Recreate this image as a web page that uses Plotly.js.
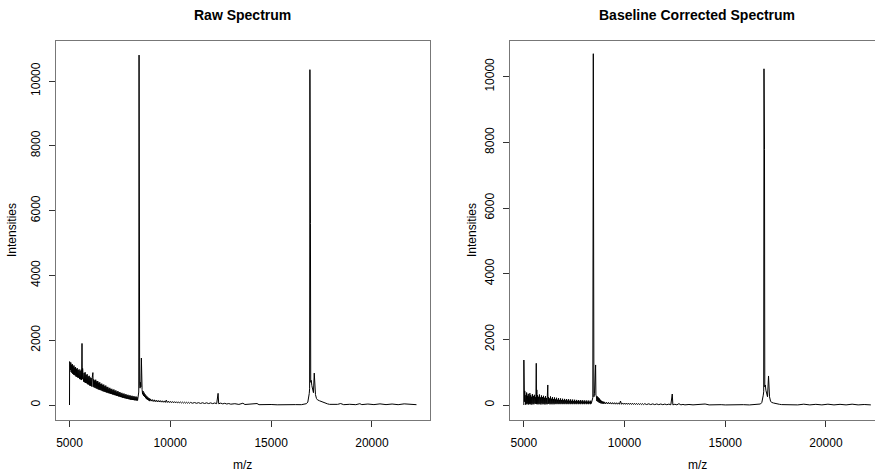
<!DOCTYPE html>
<html>
<head>
<meta charset="utf-8">
<script src="https://cdn.plot.ly/plotly-3.0.1.min.js"></script>
<style>html,body{margin:0;padding:0;background:#fff;}#chart{width:875px;height:474px;}</style>
</head>
<body>
<div id="chart"></div>
<script>
// ---- Data ----
var panelTitles = ["Raw Spectrum", "Baseline Corrected Spectrum"];
var xLabel = "m/z";
var yLabel = "Intensities";
var xTickVals = [5000, 10000, 15000, 20000];
var yTickVals = [0, 2000, 4000, 6000, 8000, 10000];

// Raw spectrum: [m/z, intensity]
var rawPoints = [
[5000,0],[5005,1340],[5020,1050],[5035,1290],[5050,1080],[5065,1310],[5080,1020],[5100,1240],[5120,990],[5140,1260],
[5160,960],[5180,1190],[5200,940],[5220,1220],[5240,930],[5260,1150],[5280,910],[5300,1170],[5320,880],[5340,1110],
[5360,870],[5380,1140],[5400,850],[5425,1080],[5450,840],[5475,1100],[5500,800],[5525,1050],[5550,790],[5575,1090],
[5600,770],[5620,1900],[5635,800],[5650,1130],[5665,740],[5680,1060],[5700,720],[5725,990],[5750,700],[5775,1010],
[5800,680],[5825,930],[5850,670],[5875,950],[5900,640],[5925,880],[5950,630],[5975,900],[6000,600],[6025,850],
[6050,590],[6075,830],[6100,570],[6125,840],[6160,1000],[6175,560],[6200,790],[6225,540],[6250,760],[6275,530],
[6300,780],[6325,510],[6350,730],[6375,500],[6400,740],[6425,480],[6450,690],[6475,470],[6500,700],[6525,460],
[6550,650],[6575,450],[6600,660],[6625,430],[6650,620],[6675,420],[6700,630],[6725,410],[6750,580],[6775,400],
[6800,600],[6825,385],[6850,550],[6875,380],[6900,560],[6925,365],[6950,510],[6975,360],[7000,530],[7025,345],
[7050,490],[7075,340],[7100,500],[7125,325],[7150,460],[7175,320],[7200,480],[7225,305],[7250,440],[7275,300],
[7300,450],[7325,285],[7350,410],[7375,280],[7400,430],[7425,265],[7450,390],[7475,260],[7500,400],[7525,245],
[7550,360],[7575,240],[7600,375],[7625,225],[7650,340],[7675,222],[7700,355],[7725,210],[7750,320],[7775,205],
[7800,335],[7825,195],[7850,300],[7875,192],[7900,315],[7925,180],[7950,285],[7975,175],[8000,300],[8025,165],
[8050,275],[8075,162],[8100,285],[8125,155],[8150,262],[8175,152],[8200,272],[8225,146],[8250,250],[8275,145],
[8300,262],[8325,140],[8350,240],[8375,138],[8400,250],[8420,270],[8435,400],[8450,10800],[8460,900],[8480,650],
[8500,520],[8520,700],[8540,560],[8565,1450],[8580,560],[8600,480],[8625,330],[8650,430],[8675,280],[8700,380],
[8725,250],[8750,330],[8775,210],[8800,290],[8825,180],[8850,260],[8875,160],[8900,230],[8925,140],[8950,210],
[8975,120],[9000,190],[9050,120],[9100,170],[9150,108],[9200,160],[9250,100],[9300,150],[9350,96],[9400,142],
[9450,92],[9500,136],[9550,88],[9600,130],[9650,84],[9700,126],[9750,80],[9800,150],[9850,78],[9900,118],
[9950,75],[10000,112],[10050,72],[10100,108],[10150,70],[10200,104],[10250,68],[10300,100],[10350,66],[10400,96],
[10450,64],[10500,93],[10550,62],[10600,90],[10650,60],[10700,87],[10750,58],[10800,84],[10850,56],[10900,82],
[10950,54],[11000,80],[11100,55],[11200,76],[11300,52],[11400,72],[11500,48],[11600,70],[11700,46],[11800,68],
[11900,44],[12000,65],[12100,42],[12200,62],[12300,40],[12370,360],[12400,38],[12500,58],[12600,35],[12700,52],
[12800,30],[12900,45],[13000,25],[13200,40],[13400,18],[13600,55],[13700,15],[14000,28],[14300,45],[14400,10],
[14600,18],[14800,8],[15000,15],[15300,6],[15600,14],[15900,6],[16200,12],[16500,10],[16650,20],[16750,40],
[16820,90],[16860,200],[16890,350],[16910,500],[16925,10350],[16940,650],[16950,5600],[16965,700],[16990,760],[17020,600],
[17060,450],[17100,380],[17140,985],[17165,500],[17200,320],[17250,200],[17300,160],[17400,130],[17500,100],[17600,80],
[17700,60],[17800,35],[17900,20],[18000,15],[18300,20],[18450,45],[18600,10],[18900,22],[19200,10],[19400,40],
[19500,12],[19800,30],[20100,12],[20400,35],[20700,12],[21000,30],[21300,10],[21600,35],[21900,12],[22210,10]
];

// Baseline corrected spectrum: [m/z, intensity]
var correctedPoints = [
[5000,0],[5002,1370],[5010,300],[5020,1220],[5030,100],[5045,430],[5060,30],[5075,350],[5090,10],[5105,300],
[5120,40],[5140,380],[5160,20],[5180,280],[5200,50],[5220,340],[5240,15],[5260,260],[5280,40],[5300,360],
[5320,20],[5340,300],[5360,50],[5380,250],[5400,10],[5425,330],[5450,40],[5475,270],[5500,20],[5525,310],
[5550,50],[5575,240],[5600,30],[5617,1270],[5630,40],[5645,460],[5660,20],[5680,300],[5700,50],[5725,250],
[5750,20],[5775,320],[5800,40],[5825,230],[5850,15],[5875,290],[5900,50],[5925,240],[5950,20],[5975,280],
[6000,40],[6025,220],[6050,15],[6075,270],[6100,45],[6125,210],[6150,20],[6175,300],[6190,610],[6205,30],
[6225,240],[6250,50],[6275,200],[6300,20],[6325,260],[6350,45],[6375,190],[6400,20],[6425,240],[6450,50],
[6475,180],[6500,20],[6525,230],[6550,45],[6575,170],[6600,25],[6625,220],[6650,50],[6675,160],[6700,25],
[6725,210],[6750,45],[6775,155],[6800,25],[6825,200],[6850,50],[6875,150],[6900,25],[6925,190],[6950,45],
[6975,145],[7000,25],[7025,185],[7050,50],[7075,140],[7100,25],[7125,180],[7150,45],[7175,135],[7200,25],
[7225,175],[7250,50],[7275,130],[7300,25],[7325,170],[7350,45],[7375,125],[7400,25],[7425,165],[7450,50],
[7475,120],[7500,25],[7525,160],[7550,45],[7575,118],[7600,25],[7625,155],[7650,50],[7675,115],[7700,25],
[7725,150],[7750,45],[7775,112],[7800,25],[7825,150],[7850,50],[7875,110],[7900,25],[7925,145],[7950,45],
[7975,108],[8000,25],[8025,140],[8050,50],[8075,105],[8100,25],[8125,138],[8150,45],[8175,102],[8200,25],
[8225,135],[8250,50],[8275,100],[8300,25],[8325,130],[8350,45],[8375,110],[8400,140],[8425,220],[8450,10700],
[8460,400],[8480,250],[8510,350],[8540,680],[8565,1220],[8580,300],[8600,280],[8625,120],[8650,260],[8675,100],
[8700,230],[8725,80],[8750,200],[8775,60],[8800,160],[8825,50],[8850,130],[8875,45],[8900,110],[8925,40],
[8950,100],[8975,35],[9000,95],[9050,35],[9100,85],[9150,32],[9200,80],[9250,30],[9300,76],[9350,28],
[9400,72],[9450,27],[9500,70],[9550,25],[9600,68],[9650,24],[9700,66],[9750,23],[9800,120],[9850,22],
[9900,62],[9950,21],[10000,60],[10050,20],[10100,58],[10150,19],[10200,56],[10250,18],[10300,54],[10350,17],
[10400,52],[10450,16],[10500,50],[10550,15],[10600,48],[10650,14],[10700,46],[10750,13],[10800,44],[10850,12],
[10900,42],[10950,11],[11000,40],[11100,14],[11200,36],[11300,12],[11400,34],[11500,11],[11600,32],[11700,10],
[11800,30],[11900,9],[12000,28],[12100,8],[12200,26],[12300,6],[12370,335],[12400,5],[12500,22],[12600,5],
[12700,40],[12800,4],[12900,18],[13000,4],[13200,16],[13400,4],[13600,14],[13800,3],[14000,30],[14200,3],
[14400,12],[14600,3],[14800,10],[15000,2],[15300,10],[15600,2],[15900,10],[16200,2],[16500,10],[16650,15],
[16750,30],[16820,80],[16860,180],[16890,300],[16910,400],[16925,10240],[16940,500],[16950,7780],[16965,550],[16990,610],
[17020,450],[17060,300],[17100,250],[17150,884],[17170,480],[17200,250],[17250,120],[17300,80],[17400,60],[17500,40],
[17600,30],[17700,20],[17800,12],[17900,8],[18000,5],[18300,15],[18600,3],[18900,25],[19200,3],[19500,20],
[19800,3],[20100,25],[20400,3],[20700,20],[21000,3],[21300,25],[21600,3],[21900,15],[22230,3]
];

// ---- Build traces ----
var FONT = "Liberation Sans, Arial, Helvetica, sans-serif";
var W = 875, H = 474;

function col(arr, i) { return arr.map(function (p) { return p[i]; }); }

var traces = [
  { type: "scatter", mode: "lines", x: col(rawPoints, 0), y: col(rawPoints, 1),
    xaxis: "x", yaxis: "y", line: { color: "#000", width: 1 }, hoverinfo: "x+y" },
  { type: "scatter", mode: "lines", x: col(correctedPoints, 0), y: col(correctedPoints, 1),
    xaxis: "x2", yaxis: "y2", line: { color: "#000", width: 1 }, hoverinfo: "x+y" }
];

var plotTop = 41, plotBottom = 420;
var yDomain = [(H - plotBottom) / H, (H - plotTop) / H];

function xAxis(domain, range, anchor) {
  return {
    domain: domain, range: range, anchor: anchor,
    tickmode: "array", tickvals: xTickVals, ticktext: xTickVals.map(String),
    ticks: "outside", ticklen: 6, tickcolor: "#333", tickwidth: 1,
    showline: true, linecolor: "#777", linewidth: 1, mirror: true,
    showgrid: false, zeroline: false,
    tickfont: { family: FONT, size: 12, color: "#000" }, ticklabelstandoff: 6
  };
}
function yAxis(domain, range, anchor, mirror) {
  return {
    domain: domain, range: range, anchor: anchor,
    tickmode: "array", tickvals: yTickVals, ticktext: yTickVals.map(String),
    ticks: "outside", ticklen: 6, tickcolor: "#333", tickwidth: 1,
    showline: true, linecolor: "#777", linewidth: 1, mirror: mirror,
    showgrid: false, zeroline: false, tickangle: -90,
    tickfont: { family: FONT, size: 12, color: "#000" }, ticklabelstandoff: 4
  };
}

var leftL = 55.5, leftR = 430, rightL = 509.5;
var layout = {
  width: W, height: H,
  margin: { l: 0, r: 0, t: 0, b: 0, pad: 0 },
  paper_bgcolor: "#fff", plot_bgcolor: "#fff",
  showlegend: false,
  xaxis: xAxis([leftL / W, leftR / W], [4305, 22881], "y"),
  yaxis: yAxis(yDomain, [-463, 11235], "x", true),
  xaxis2: xAxis([rightL / W, 1], [4289, 22437], "y2"),
  yaxis2: yAxis(yDomain, [-457, 11087], "x2", false),
  annotations: [
    { text: "<b>" + panelTitles[0] + "</b>", x: 243 / W, y: 1 - 15 / H, xref: "paper", yref: "paper",
      xanchor: "center", yanchor: "middle", showarrow: false, font: { family: FONT, size: 14, color: "#000" } },
    { text: "<b>" + panelTitles[1] + "</b>", x: 697 / W, y: 1 - 15 / H, xref: "paper", yref: "paper",
      xanchor: "center", yanchor: "middle", showarrow: false, font: { family: FONT, size: 14, color: "#000" } },
    { text: xLabel, x: 243 / W, y: 1 - 465 / H, xref: "paper", yref: "paper",
      xanchor: "center", yanchor: "middle", showarrow: false, font: { family: FONT, size: 12, color: "#000" } },
    { text: xLabel, x: 697 / W, y: 1 - 465 / H, xref: "paper", yref: "paper",
      xanchor: "center", yanchor: "middle", showarrow: false, font: { family: FONT, size: 12, color: "#000" } },
    { text: yLabel, x: 12 / W, y: 1 - 230 / H, xref: "paper", yref: "paper", textangle: -90,
      xanchor: "center", yanchor: "middle", showarrow: false, font: { family: FONT, size: 12, color: "#000" } },
    { text: yLabel, x: 472 / W, y: 1 - 230 / H, xref: "paper", yref: "paper", textangle: -90,
      xanchor: "center", yanchor: "middle", showarrow: false, font: { family: FONT, size: 12, color: "#000" } }
  ]
};

Plotly.newPlot("chart", traces, layout, { staticPlot: true, displayModeBar: false });
</script>
</body>
</html>
